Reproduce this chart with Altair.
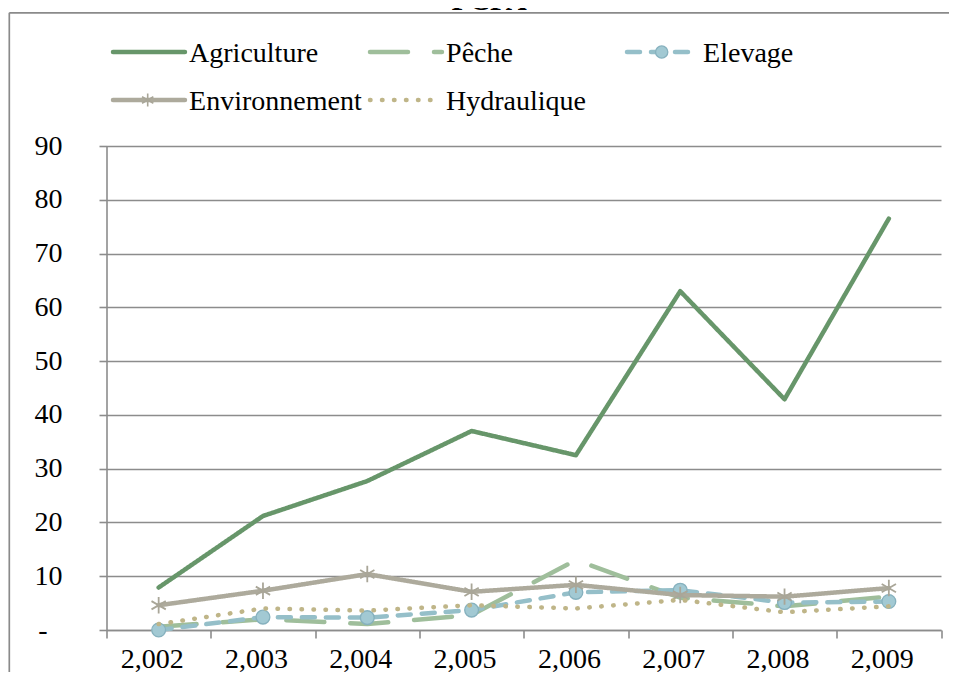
import altair as alt
import pandas as pd

# ---- data ----
years = ["2,002", "2,003", "2,004", "2,005", "2,006", "2,007", "2,008", "2,009"]
series = ["Agriculture", "Pêche", "Elevage", "Environnement", "Hydraulique"]
agriculture = [7.9, 21.2, 27.7, 37.0, 32.5, 63.0, 42.9, 76.5]
peche = [0.6, 2.0, 1.1, 2.8, 13.0, 6.0, 4.4, 6.2]
elevage = [0.0, 2.4, 2.3, 3.7, 7.0, 7.4, 5.1, 5.3]
environnement = [4.6, 7.3, 10.4, 7.1, 8.4, 6.5, 6.2, 7.8]
hydraulique = [1.1, 4.0, 3.6, 4.6, 4.0, 5.6, 3.3, 4.4]
y_ticks = [0, 10, 20, 30, 40, 50, 60, 70, 80, 90]

# ---- styles ----
colors = ["#67966A", "#9FBE9B", "#95BFC9", "#ADAA9C", "#BFB588"]
dashes = [[1, 0], [38, 26], [13, 11], [1, 0], [0.5, 11.5]]
FONT = "Liberation Serif, Times New Roman, serif"
GRID = "#8c8c8c"
STAR = "M0,-1V1M-0.87,-0.5L0.87,0.5M-0.87,0.5L0.87,-0.5"

values = [agriculture, peche, elevage, environnement, hydraulique]
df = pd.DataFrame(
    [{"year": y, "series": s, "value": v}
     for s, vals in zip(series, values) for y, v in zip(years, vals)]
)

color_scale = alt.Scale(domain=series, range=colors)
dash_scale = alt.Scale(domain=series, range=dashes)

x_enc = alt.X(
    "year:N", sort=years,
    scale=alt.Scale(type="band", domain=years, paddingInner=0, paddingOuter=0),
    axis=alt.Axis(
        title=None, grid=False, tickBand="extent", tickSize=8, tickColor=GRID,
        tickWidth=1.6, domainColor=GRID, domainWidth=1.6, labelAngle=0,
        labelFont=FONT, labelFontSize=28, labelColor="black", labelPadding=7,
        labelOffset=-7,
    ),
)
y_enc = alt.Y(
    "value:Q",
    scale=alt.Scale(domain=[0, 90], nice=False, zero=True),
    axis=alt.Axis(
        title=None, values=y_ticks, grid=True, gridColor=GRID, gridWidth=1.6,
        tickSize=7.5, tickColor=GRID, tickWidth=1.6, domainColor=GRID,
        domainWidth=1.6, labelFont=FONT, labelFontSize=28, labelColor="black",
        labelPadding={"condition": {"test": "datum.value == 0", "value": 52}, "value": 37},
        labelExpr="datum.value == 0 ? '-' : datum.label",
    ),
)

base = alt.Chart(df)


def line_layer(name):
    return base.transform_filter(alt.datum.series == name).mark_line(
        strokeWidth=4.5, strokeCap="round", strokeJoin="round"
    ).encode(
        x=x_enc, y=y_enc,
        color=alt.Color("series:N", scale=color_scale, legend=None),
        strokeDash=alt.StrokeDash("series:N", scale=dash_scale, legend=None),
    )


elev_pts = base.transform_filter(alt.datum.series == "Elevage").mark_point(
    shape="circle", filled=True, size=190, fill="#A2C9D3", stroke="#86B1BE",
    strokeWidth=1.3, opacity=1,
).encode(x=x_enc, y=y_enc)

env_pts = base.transform_filter(alt.datum.series == "Environnement").mark_point(
    shape=STAR, filled=False, size=270, stroke="#A9A698", strokeWidth=1.8, opacity=1,
).encode(x=x_enc, y=y_enc)

main = alt.layer(
    line_layer("Agriculture"),
    line_layer("Pêche"),
    line_layer("Elevage"),
    elev_pts,
    line_layer("Environnement"),
    env_pts,
    line_layer("Hydraulique"),
)

# ---- legend (built from the series list, laid out in 3 columns) ----
leg = pd.DataFrame({
    "series": series,
    "col": [i % 3 for i in range(len(series))],
    "row": [i // 3 for i in range(len(series))],
})
legx = alt.Scale(domain=[0, 3], range=[6.5, 777.5])
legy = alt.Scale(domain=[0, 1], range=[-94, -46])
lbase = alt.Chart(leg).transform_calculate(
    x_end="datum.col + 0.28", x_mid="datum.col + 0.135", x_txt="datum.col + 0.296"
)
leg_lines = lbase.mark_rule(strokeWidth=4.5, strokeCap="round").encode(
    x=alt.X("col:Q", scale=legx, axis=None),
    x2="x_end:Q",
    y=alt.Y("row:Q", scale=legy, axis=None),
    color=alt.Color("series:N", scale=color_scale, legend=None),
    strokeDash=alt.StrokeDash("series:N", scale=dash_scale, legend=None),
)
leg_circle = lbase.transform_filter(alt.datum.series == "Elevage").mark_point(
    shape="circle", filled=True, size=150, fill="#A2C9D3", stroke="#86B1BE",
    strokeWidth=1.3, opacity=1,
).encode(x=alt.X("x_mid:Q", scale=legx, axis=None), y=alt.Y("row:Q", scale=legy, axis=None))
leg_star = lbase.transform_filter(alt.datum.series == "Environnement").mark_point(
    shape=STAR, filled=False, size=170, stroke="#A9A698", strokeWidth=1.6, opacity=1,
).encode(x=alt.X("x_mid:Q", scale=legx, axis=None), y=alt.Y("row:Q", scale=legy, axis=None))
leg_text = lbase.mark_text(
    align="left", baseline="alphabetic", dy=10, font=FONT, fontSize=28, color="black"
).encode(
    x=alt.X("x_txt:Q", scale=legx, axis=None),
    y=alt.Y("row:Q", scale=legy, axis=None),
    text="series:N",
)
legend = alt.layer(leg_lines, leg_circle, leg_star, leg_text)

# ---- frame (top and left edges; the rest lies beyond the picture) and title ----
one = alt.Chart(pd.DataFrame({"k": [0]}))
frame_top = one.mark_rule(stroke="#8a8a8a", strokeWidth=1.7).encode(
    x=alt.value(-97.2), x2=alt.value(860), y=alt.value(-133.2)
)
frame_left = one.mark_rule(stroke="#8a8a8a", strokeWidth=1.7).encode(
    x=alt.value(-97.2), y=alt.value(-133.2), y2=alt.value(600)
)
title = one.mark_text(
    text="FCFA", font=FONT, fontSize=29, fontWeight="bold", color="black",
    align="center", baseline="alphabetic",
).encode(x=alt.value(382.5), y=alt.value(-136.5))

chart = alt.layer(main, legend, frame_top, frame_left, title).resolve_scale(
    x="independent", y="independent"
).properties(
    width=834.5, height=484, autosize="none",
    padding={"left": 98.5, "top": 138, "right": 8, "bottom": 42},
    background="white",
).configure_view(stroke=None)

chart.save("out.html", embed_options={"renderer": "svg", "actions": False})
